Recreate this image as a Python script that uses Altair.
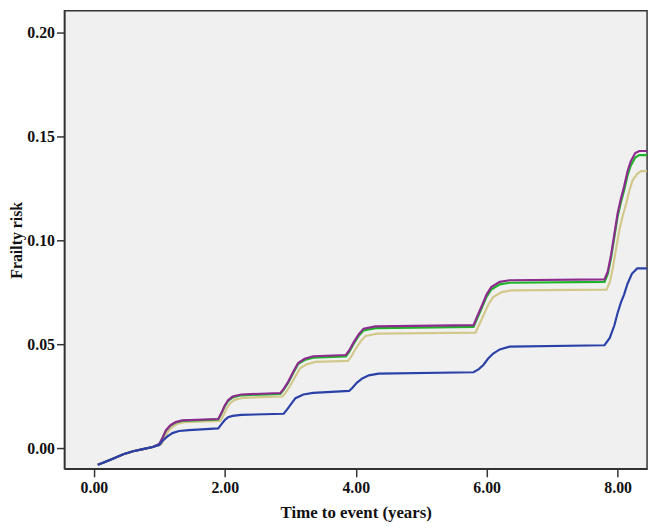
import altair as alt
import pandas as pd

# Shared early part (all curves overlap before ~1 year)
early_t = [0.06, 0.15, 0.30, 0.45, 0.60, 0.75, 0.90]
early_v = [-0.0080, -0.0070, -0.0050, -0.0030, -0.0015, -0.0005, 0.0005]

blue_t = [1.00, 1.05, 1.12, 1.20, 1.30, 1.45, 1.90, 1.95, 2.00, 2.05, 2.12, 2.25,
          2.90, 2.95, 3.02, 3.08, 3.20, 3.35, 3.90, 3.95, 4.02, 4.10, 4.20, 4.35,
          5.80, 5.88, 5.95, 6.02, 6.10, 6.20, 6.35, 7.80, 7.88, 7.95, 8.00, 8.05,
          8.10, 8.15, 8.22, 8.30, 8.45]
blue_v = [0.0015, 0.0035, 0.0055, 0.0072, 0.0082, 0.0086, 0.0095, 0.0115, 0.0135, 0.0148, 0.0155, 0.0160,
          0.0165, 0.0185, 0.0215, 0.0240, 0.0258, 0.0266, 0.0275, 0.0290, 0.0315, 0.0335, 0.0350, 0.0358,
          0.0365, 0.0380, 0.0400, 0.0430, 0.0455, 0.0475, 0.0488, 0.0495, 0.0530, 0.0590, 0.0650, 0.0700,
          0.0740, 0.0790, 0.0840, 0.0865, 0.0865]

upper_t = [1.00, 1.05, 1.10, 1.17, 1.25, 1.35, 1.90, 1.95, 2.00, 2.05, 2.12, 2.25,
           2.85, 2.90, 2.97, 3.05, 3.12, 3.22, 3.35, 3.85, 3.90, 3.97, 4.05, 4.12, 4.30,
           5.80, 5.85, 5.92, 6.00, 6.07, 6.20, 6.35, 7.80, 7.85, 7.90, 7.95, 8.00,
           8.05, 8.10, 8.15, 8.20, 8.27, 8.33, 8.45]
purple_v = [0.0020, 0.0050, 0.0085, 0.0110, 0.0125, 0.0133, 0.0140, 0.0170, 0.0205, 0.0230, 0.0248, 0.0258,
            0.0265, 0.0285, 0.0320, 0.0370, 0.0410, 0.0430, 0.0442, 0.0448, 0.0470, 0.0510, 0.0550, 0.0575, 0.0586,
            0.0592, 0.0630, 0.0680, 0.0740, 0.0775, 0.0800, 0.0808, 0.0812, 0.0850, 0.0930, 0.1030, 0.1130,
            0.1200, 0.1260, 0.1330, 0.1380, 0.1420, 0.1430, 0.1430]
green_v = [0.0020, 0.0049, 0.0083, 0.0108, 0.0123, 0.0131, 0.0138, 0.0167, 0.0202, 0.0226, 0.0244, 0.0254,
           0.0261, 0.0281, 0.0315, 0.0364, 0.0404, 0.0424, 0.0435, 0.0441, 0.0463, 0.0502, 0.0542, 0.0566, 0.0577,
           0.0583, 0.0620, 0.0670, 0.0729, 0.0763, 0.0788, 0.0796, 0.0800, 0.0837, 0.0916, 0.1015, 0.1113,
           0.1182, 0.1241, 0.1310, 0.1359, 0.1399, 0.1410, 0.1410]

tan_t = [1.03, 1.08, 1.13, 1.20, 1.28, 1.38, 1.93, 1.98, 2.03, 2.08, 2.15, 2.28,
         2.88, 2.93, 3.00, 3.08, 3.15, 3.25, 3.38, 3.88, 3.93, 4.00, 4.08, 4.15, 4.33,
         5.83, 5.88, 5.95, 6.03, 6.10, 6.23, 6.38, 7.83, 7.88, 7.93, 7.98, 8.03,
         8.08, 8.13, 8.18, 8.23, 8.30, 8.36, 8.45]
tan_v = [0.0018, 0.0045, 0.0078, 0.0102, 0.0117, 0.0125, 0.0131, 0.0158, 0.0192, 0.0215, 0.0232, 0.0242,
         0.0248, 0.0267, 0.0300, 0.0346, 0.0384, 0.0403, 0.0415, 0.0420, 0.0440, 0.0478, 0.0516, 0.0540, 0.0551,
         0.0556, 0.0590, 0.0638, 0.0694, 0.0727, 0.0751, 0.0759, 0.0763, 0.0798, 0.0872, 0.0965, 0.1055,
         0.1120, 0.1175, 0.1240, 0.1290, 0.1320, 0.1333, 0.1333]

series_names = ["tan", "green", "purple", "blue"]
series_colors = ["#d2c88c", "#1fb52a", "#8e2b8e", "#2b41a8"]

rows = []
def add(name, order, ts, vs):
    for t, v in zip(early_t + ts, early_v + vs):
        rows.append({"series": name, "order": order, "t": t, "v": v})

add("tan", 0, tan_t, tan_v)
add("green", 1, upper_t, green_v)
add("purple", 2, upper_t, purple_v)
add("blue", 3, blue_t, blue_v)
df = pd.DataFrame(rows)

font = "Liberation Serif"

chart = alt.Chart(df).mark_line(interpolate="linear", strokeWidth=2.2, clip=True).encode(
    x=alt.X("t:Q", title="Time to event (years)",
            scale=alt.Scale(domain=[-0.45, 8.45], nice=False, zero=False),
            axis=alt.Axis(values=[0, 2, 4, 6, 8], format=".2f", grid=False,
                          tickSize=8, labelPadding=3, titlePadding=9, titleFontSize=17)),
    y=alt.Y("v:Q", title="Frailty risk",
            scale=alt.Scale(domain=[-0.010, 0.2105], nice=False, zero=False),
            axis=alt.Axis(values=[0.0, 0.05, 0.10, 0.15, 0.20], format=".2f", grid=False,
                          tickSize=8, labelPadding=2, titlePadding=2, titleFontSize=16)),
    color=alt.Color("series:N", scale=alt.Scale(domain=series_names, range=series_colors), legend=None),
    detail="series:N",
    order=alt.Order("order:Q"),
).properties(
    width=589, height=463,
    autosize=alt.AutoSizeParams(type="none"),
    padding={"left": 57, "top": 0, "right": 6, "bottom": 60},
    background="white",
).configure_view(
    fill="#f0f0f0", stroke="#333333", strokeWidth=1.5
).configure_axis(
    labelFont=font, titleFont=font, labelFontSize=16,
    labelFontWeight="bold", titleFontWeight="bold",
    labelColor="#111111", titleColor="#111111",
    domainColor="#333333", domainWidth=1.5, tickColor="#333333", tickWidth=1.5,
)

chart.save("out.html", embed_options={"renderer": "svg", "actions": False})
